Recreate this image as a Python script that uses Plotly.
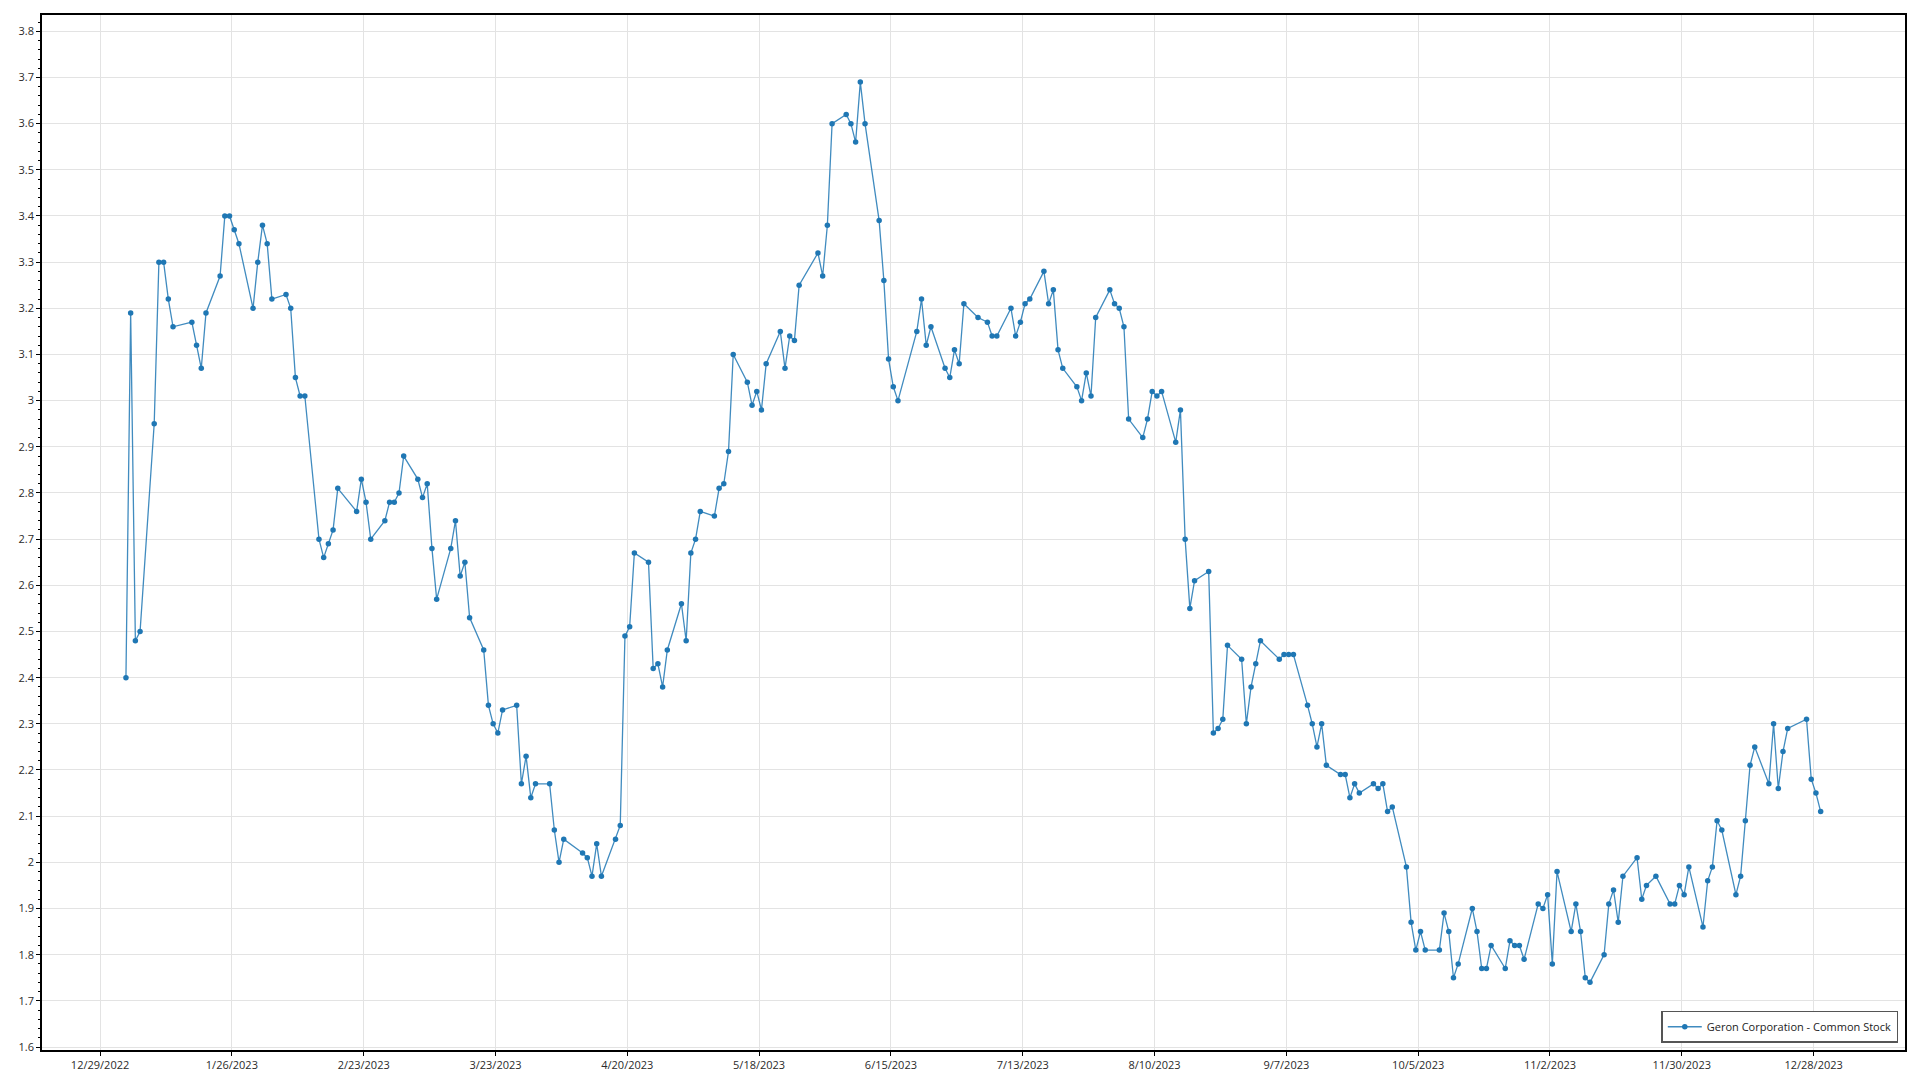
import plotly.graph_objects as go

series_name = "Geron Corporation - Common Stock"

trade_dates = [
    # January 2023
    "2023-01-03", "2023-01-04", "2023-01-05", "2023-01-06", "2023-01-09", "2023-01-10", "2023-01-11",
    "2023-01-12", "2023-01-13", "2023-01-17", "2023-01-18", "2023-01-19", "2023-01-20", "2023-01-23",
    "2023-01-24", "2023-01-25", "2023-01-26", "2023-01-27", "2023-01-30", "2023-01-31",
    # February
    "2023-02-01", "2023-02-02", "2023-02-03", "2023-02-06", "2023-02-07", "2023-02-08", "2023-02-09",
    "2023-02-10", "2023-02-13", "2023-02-14", "2023-02-15", "2023-02-16", "2023-02-17", "2023-02-21",
    "2023-02-22", "2023-02-23", "2023-02-24", "2023-02-27", "2023-02-28",
    # March
    "2023-03-01", "2023-03-02", "2023-03-03", "2023-03-06", "2023-03-07", "2023-03-08", "2023-03-09",
    "2023-03-10", "2023-03-13", "2023-03-14", "2023-03-15", "2023-03-16", "2023-03-17", "2023-03-20",
    "2023-03-21", "2023-03-22", "2023-03-23", "2023-03-24", "2023-03-27", "2023-03-28", "2023-03-29",
    "2023-03-30", "2023-03-31",
    # April
    "2023-04-03", "2023-04-04", "2023-04-05", "2023-04-06", "2023-04-10", "2023-04-11", "2023-04-12",
    "2023-04-13", "2023-04-14", "2023-04-17", "2023-04-18", "2023-04-19", "2023-04-20", "2023-04-21",
    "2023-04-24", "2023-04-25", "2023-04-26", "2023-04-27", "2023-04-28",
    # May
    "2023-05-01", "2023-05-02", "2023-05-03", "2023-05-04", "2023-05-05", "2023-05-08", "2023-05-09",
    "2023-05-10", "2023-05-11", "2023-05-12", "2023-05-15", "2023-05-16", "2023-05-17", "2023-05-18",
    "2023-05-19", "2023-05-22", "2023-05-23", "2023-05-24", "2023-05-25", "2023-05-26", "2023-05-30",
    "2023-05-31",
    # June
    "2023-06-01", "2023-06-02", "2023-06-05", "2023-06-06", "2023-06-07", "2023-06-08", "2023-06-09",
    "2023-06-12", "2023-06-13", "2023-06-14", "2023-06-15", "2023-06-16", "2023-06-20", "2023-06-21",
    "2023-06-22", "2023-06-23", "2023-06-26", "2023-06-27", "2023-06-28", "2023-06-29", "2023-06-30",
    # July
    "2023-07-03", "2023-07-05", "2023-07-06", "2023-07-07", "2023-07-10", "2023-07-11", "2023-07-12",
    "2023-07-13", "2023-07-14", "2023-07-17", "2023-07-18", "2023-07-19", "2023-07-20", "2023-07-21",
    "2023-07-24", "2023-07-25", "2023-07-26", "2023-07-27", "2023-07-28", "2023-07-31",
    # August
    "2023-08-01", "2023-08-02", "2023-08-03", "2023-08-04", "2023-08-07", "2023-08-08", "2023-08-09",
    "2023-08-10", "2023-08-11", "2023-08-14", "2023-08-15", "2023-08-16", "2023-08-17", "2023-08-18",
    "2023-08-21", "2023-08-22", "2023-08-23", "2023-08-24", "2023-08-25", "2023-08-28", "2023-08-29",
    "2023-08-30", "2023-08-31",
    # September
    "2023-09-01", "2023-09-05", "2023-09-06", "2023-09-07", "2023-09-08", "2023-09-11", "2023-09-12",
    "2023-09-13", "2023-09-14", "2023-09-15", "2023-09-18", "2023-09-19", "2023-09-20", "2023-09-21",
    "2023-09-22", "2023-09-25", "2023-09-26", "2023-09-27", "2023-09-28", "2023-09-29",
    # October
    "2023-10-02", "2023-10-03", "2023-10-04", "2023-10-05", "2023-10-06", "2023-10-09", "2023-10-10",
    "2023-10-11", "2023-10-12", "2023-10-13", "2023-10-16", "2023-10-17", "2023-10-18", "2023-10-19",
    "2023-10-20", "2023-10-23", "2023-10-24", "2023-10-25", "2023-10-26", "2023-10-27", "2023-10-30",
    "2023-10-31",
    # November
    "2023-11-01", "2023-11-02", "2023-11-03", "2023-11-06", "2023-11-07", "2023-11-08", "2023-11-09",
    "2023-11-10", "2023-11-13", "2023-11-14", "2023-11-15", "2023-11-16", "2023-11-17", "2023-11-20",
    "2023-11-21", "2023-11-22", "2023-11-24", "2023-11-27", "2023-11-28", "2023-11-29", "2023-11-30",
    # December
    "2023-12-01", "2023-12-04", "2023-12-05", "2023-12-06", "2023-12-07", "2023-12-08", "2023-12-11",
    "2023-12-12", "2023-12-13", "2023-12-14", "2023-12-15", "2023-12-18", "2023-12-19", "2023-12-20",
    "2023-12-21", "2023-12-22", "2023-12-26", "2023-12-27", "2023-12-28", "2023-12-29",
]

close_prices = [
    # January
    2.40, 3.19, 2.48, 2.50, 2.95, 3.30, 3.30, 3.22, 3.16, 3.17, 3.12, 3.07, 3.19, 3.27,
    3.40, 3.40, 3.37, 3.34, 3.20, 3.30,
    # February
    3.38, 3.34, 3.22, 3.23, 3.20, 3.05, 3.01, 3.01, 2.70, 2.66, 2.69, 2.72, 2.81, 2.76,
    2.83, 2.78, 2.70, 2.74, 2.78,
    # March
    2.78, 2.80, 2.88, 2.83, 2.79, 2.82, 2.68, 2.57, 2.68, 2.74, 2.62, 2.65, 2.53, 2.46,
    2.34, 2.30, 2.28, 2.33, 2.34, 2.17, 2.23, 2.14, 2.17,
    # April
    2.17, 2.07, 2.00, 2.05, 2.02, 2.01, 1.97, 2.04, 1.97, 2.05, 2.08, 2.49, 2.51, 2.67,
    2.65, 2.42, 2.43, 2.38, 2.46,
    # May
    2.56, 2.48, 2.67, 2.70, 2.76, 2.75, 2.81, 2.82, 2.89, 3.10, 3.04, 2.99, 3.02, 2.98,
    3.08, 3.15, 3.07, 3.14, 3.13, 3.25, 3.32, 3.27,
    # June
    3.38, 3.60, 3.62, 3.60, 3.56, 3.69, 3.60, 3.39, 3.26, 3.09, 3.03, 3.00, 3.15, 3.22,
    3.12, 3.16, 3.07, 3.05, 3.11, 3.08, 3.21,
    # July
    3.18, 3.17, 3.14, 3.14, 3.20, 3.14, 3.17, 3.21, 3.22, 3.28, 3.21, 3.24, 3.11, 3.07,
    3.03, 3.00, 3.06, 3.01, 3.18, 3.24,
    # August
    3.21, 3.20, 3.16, 2.96, 2.92, 2.96, 3.02, 3.01, 3.02, 2.91, 2.98, 2.70, 2.55, 2.61,
    2.63, 2.28, 2.29, 2.31, 2.47, 2.44, 2.30, 2.38, 2.43,
    # September
    2.48, 2.44, 2.45, 2.45, 2.45, 2.34, 2.30, 2.25, 2.30, 2.21, 2.19, 2.19, 2.14, 2.17,
    2.15, 2.17, 2.16, 2.17, 2.11, 2.12,
    # October
    1.99, 1.87, 1.81, 1.85, 1.81, 1.81, 1.89, 1.85, 1.75, 1.78, 1.90, 1.85, 1.77, 1.77,
    1.82, 1.77, 1.83, 1.82, 1.82, 1.79, 1.91, 1.90,
    # November
    1.93, 1.78, 1.98, 1.85, 1.91, 1.85, 1.75, 1.74, 1.80, 1.91, 1.94, 1.87, 1.97, 2.01,
    1.92, 1.95, 1.97, 1.91, 1.91, 1.95, 1.93,
    # December
    1.99, 1.86, 1.96, 1.99, 2.09, 2.07, 1.93, 1.97, 2.09, 2.21, 2.25, 2.17, 2.30, 2.16,
    2.24, 2.29, 2.31, 2.18, 2.15, 2.11,
]

# x-axis tick labels every 28 days starting 12/29/2022
tick_dates = [
    "2022-12-29", "2023-01-26", "2023-02-23", "2023-03-23", "2023-04-20", "2023-05-18",
    "2023-06-15", "2023-07-13", "2023-08-10", "2023-09-07", "2023-10-05", "2023-11-02",
    "2023-11-30", "2023-12-28",
]
tick_labels = [
    "12/29/2022", "1/26/2023", "2/23/2023", "3/23/2023", "4/20/2023", "5/18/2023",
    "6/15/2023", "7/13/2023", "8/10/2023", "9/7/2023", "10/5/2023", "11/2/2023",
    "11/30/2023", "12/28/2023",
]
y_ticks = [round(1.6 + 0.1 * i, 1) for i in range(23)]
y_labels = [("%g" % v) for v in y_ticks]

# points are drawn at midday of each trading day
x_vals = [d + " 12:00" for d in trade_dates]

font_family = "Open Sans, Noto Sans, DejaVu Sans, sans-serif"

fig = go.Figure()
fig.add_trace(go.Scatter(
    x=x_vals,
    y=close_prices,
    mode="lines+markers",
    name=series_name,
    line=dict(color="rgba(31,119,180,0.85)", width=1.3),
    marker=dict(color="#1f77b4", size=5.5, line=dict(width=0)),
    showlegend=True,
))

fig.update_layout(
    width=1920,
    height=1080,
    margin=dict(l=42, r=15, t=15, b=30, pad=0),
    paper_bgcolor="white",
    plot_bgcolor="white",
    font=dict(family=font_family, size=11, color="#2a2a2a"),
    showlegend=True,
    legend=dict(
        x=0.9964, y=0.007, xanchor="right", yanchor="bottom",
        bgcolor="white", bordercolor="#555555", borderwidth=1.5,
        font=dict(family=font_family, size=11, color="#222222"),
        itemwidth=34,
    ),
    xaxis=dict(
        type="date",
        range=["2022-12-16 16:00", "2024-01-16 10:00"],
        tickmode="array",
        tickvals=tick_dates,
        ticktext=tick_labels,
        showgrid=True,
        gridcolor="#e3e3e3",
        gridwidth=1,
        showline=True,
        linecolor="black",
        linewidth=1.5,
        mirror=True,
        ticks="outside",
        ticklen=4,
        tickcolor="black",
        tickfont=dict(family=font_family, size=11, color="#2a2a2a"),
        zeroline=False,
        automargin=False,
    ),
    yaxis=dict(
        range=[1.5935, 3.8353],
        tickmode="array",
        tickvals=y_ticks,
        ticktext=y_labels,
        showgrid=True,
        gridcolor="#e3e3e3",
        gridwidth=1,
        showline=True,
        linecolor="black",
        linewidth=1.5,
        mirror=True,
        ticks="outside",
        ticklen=4,
        tickcolor="black",
        tickfont=dict(family=font_family, size=11, color="#2a2a2a"),
        zeroline=False,
        automargin=False,
        minor=dict(dtick=0.02, tick0=1.6, ticks="outside", ticklen=2, tickcolor="black", showgrid=False),
    ),
)

page_fix = (
    "document.documentElement.style.margin='0';"
    "document.documentElement.style.overflow='hidden';"
    "document.body.style.margin='0';"
    "document.body.style.padding='0';"
    "document.body.style.overflow='hidden';"
)

fig.write_html("out.html", post_script=page_fix, config={"displayModeBar": False})
